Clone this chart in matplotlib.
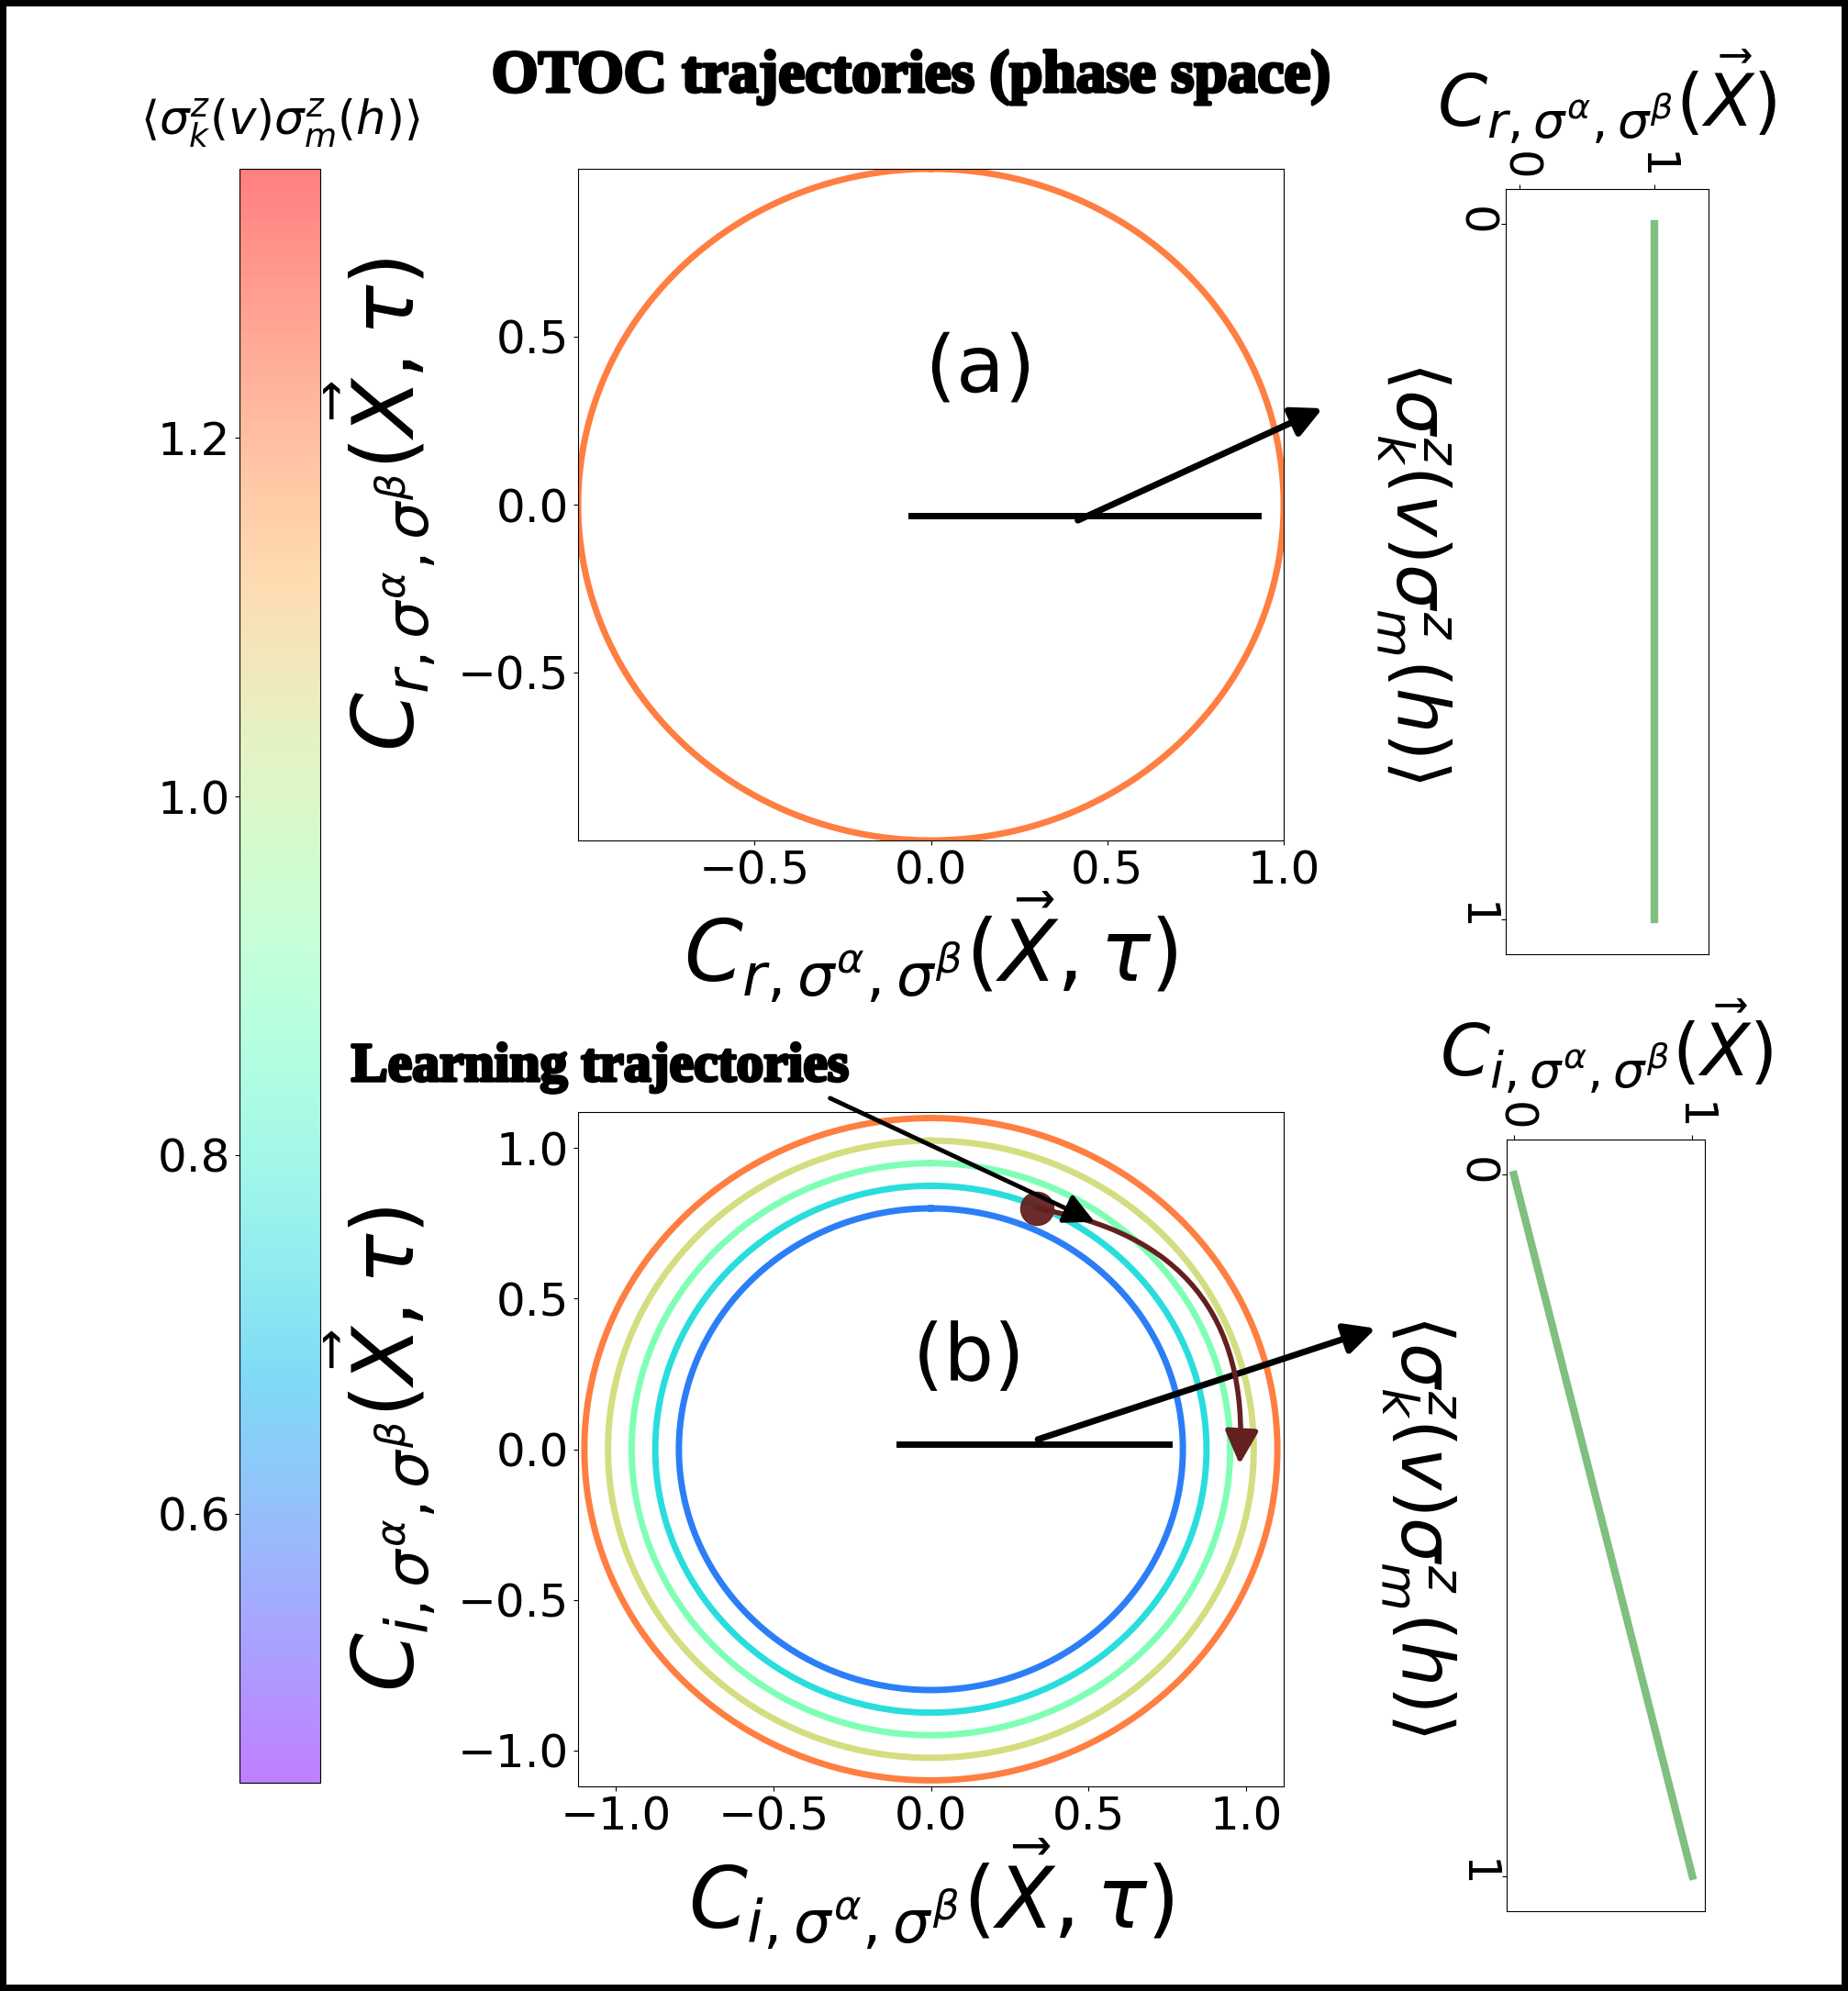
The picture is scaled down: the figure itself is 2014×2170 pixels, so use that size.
import matplotlib
matplotlib.use("Agg")
import matplotlib.pyplot as plt
import matplotlib.patheffects as pe
import numpy as np
from matplotlib.colors import ListedColormap, Normalize
from matplotlib.cm import ScalarMappable

# circle radii and their colour values (colorbar quantity)
radii_a = [1.0]
values_a = [1.2]
radii_b = [1.1, 1.025, 0.95, 0.875, 0.8]
values_b = [1.2, 1.05, 0.9, 0.75, 0.6]
cbar_range = (0.45, 1.35)
cbar_ticks = [0.6, 0.8, 1.0, 1.2]

# right-hand panels: amplitude vs index
right_a_x = [1, 1]
right_a_y = [0, 1]
right_b_x = [0, 1]
right_b_y = [0, 1]

# learning trajectory start / end on panel (b)
learn_start = (0.335, 0.80)
learn_end = (0.98, -0.05)

W, H = 2014, 2170
fig = plt.figure(figsize=(W / 100, H / 100), dpi=100, edgecolor="black", linewidth=10)


def frac(l, t, r, b):
    return [l / W, 1 - b / H, (r - l) / W, (b - t) / H]


ax_a = fig.add_axes(frac(630, 184, 1399, 916))
ax_b = fig.add_axes(frac(630, 1212, 1399, 1947))
cax = fig.add_axes(frac(261, 184, 349, 1943))
ax_ra = fig.add_axes(frac(1641, 206, 1862, 1040))
ax_rb = fig.add_axes(frac(1642, 1242, 1858, 2083))

cmap = plt.get_cmap("rainbow")
norm = Normalize(*cbar_range)
t = np.linspace(0, 2 * np.pi, 400)

for r, v in zip(radii_a, values_a):
    ax_a.plot(r * np.sin(t), r * np.cos(t), color=cmap(norm(v)), lw=5)
for r, v in zip(radii_b, values_b):
    ax_b.plot(r * np.sin(t), r * np.cos(t), color=cmap(norm(v)), lw=5)

TICK = 36
LAB = 66
for ax in (ax_a, ax_b):
    ax.tick_params(labelsize=TICK)

ax_a.set_xlim(-1, 1)
ax_a.set_ylim(-1, 1)
ax_a.set_xticks([-0.5, 0.0, 0.5, 1.0])
ax_a.set_yticks([-0.5, 0.0, 0.5])
ax_b.set_xlim(-1.12, 1.12)
ax_b.set_ylim(-1.12, 1.12)
ax_b.set_xticks([-1.0, -0.5, 0.0, 0.5, 1.0])
ax_b.set_yticks([-1.0, -0.5, 0.0, 0.5, 1.0])

lab_r = r"$C_{r,\sigma^{\alpha},\sigma^{\beta}}(\vec{X}, \tau)$"
lab_i = r"$C_{i,\sigma^{\alpha},\sigma^{\beta}}(\vec{X}, \tau)$"
ax_a.set_xlabel(lab_r, fontsize=LAB)
ax_a.set_ylabel(lab_r, fontsize=LAB)
ax_b.set_xlabel(lab_i, fontsize=LAB)
ax_b.set_ylabel(lab_i, fontsize=LAB)
for ax in (ax_a, ax_b):
    ax.xaxis.set_label_coords(0.5, -0.075)
    ax.yaxis.set_label_coords(-0.2, 0.5)

halo = [pe.withStroke(linewidth=10, foreground="white")]
ax_a.text(0.14, 0.40, "(a)", fontsize=62, ha="center", va="center", path_effects=halo)
ax_b.text(0.12, 0.30, "(b)", fontsize=62, ha="center", va="center", path_effects=halo)

# zoom-out markers with arrows to the right panels
ax_a.plot([-0.056, 0.927], [-0.033, -0.033], color="black", lw=5)
ax_a.annotate("", xy=(1.117, 0.29), xytext=(0.41, -0.05),
              arrowprops=dict(arrowstyle="-|>", color="black", lw=5, mutation_scale=50),
              annotation_clip=False)
ax_b.plot([-0.1, 0.755], [0.017, 0.017], color="black", lw=5)
ax_b.annotate("", xy=(1.42, 0.404), xytext=(0.332, 0.03),
              arrowprops=dict(arrowstyle="-|>", color="black", lw=5, mutation_scale=50),
              annotation_clip=False)

# learning trajectory
brown = "#64201f"
ax_b.plot(*learn_start, "o", ms=26, color=brown, alpha=0.95, zorder=5)
ax_b.annotate("", xy=learn_end, xytext=learn_start,
              arrowprops=dict(arrowstyle="-|>", color=brown, lw=4, mutation_scale=55,
                              connectionstyle="arc3,rad=-0.45", shrinkA=0, shrinkB=0),
              zorder=6)
ax_b.annotate("", xy=(0.52, 0.755), xytext=(-0.32, 1.166),
              arrowprops=dict(arrowstyle="-|>", color="black", lw=3.5, mutation_scale=50,
                              shrinkA=0, shrinkB=0),
              annotation_clip=False, zorder=7)

stroke = [pe.withStroke(linewidth=2.5, foreground="black")]
fig.text(993 / W, 1 - 100 / H, "OTOC trajectories (phase space)", fontsize=47,
         fontweight="bold", family="Liberation Serif", ha="center", va="baseline",
         path_effects=stroke)
fig.text(654 / W, 1 - 1178 / H, "Learning trajectories", fontsize=43,
         fontweight="bold", family="Liberation Serif", ha="center", va="baseline",
         path_effects=stroke)

# colorbar
base = cmap(np.linspace(0, 1, 256))
light = base.copy()
light[:, :3] = 0.5 * base[:, :3] + 0.5
sm = ScalarMappable(norm=norm, cmap=ListedColormap(light))
cb = fig.colorbar(sm, cax=cax)
cb.set_ticks(cbar_ticks)
cax.yaxis.set_ticks_position("left")
cax.tick_params(labelsize=TICK)
cax.set_title(r"$\langle\sigma_k^z(v)\sigma_m^z(h)\rangle$", fontsize=37, pad=26)

# right panels
ylab = r"$\langle\sigma_k^z(v)\sigma_m^z(h)\rangle$"
for ax, xs, ys, title, xlim in (
    (ax_ra, right_a_x, right_a_y, r"$C_{r,\sigma^{\alpha},\sigma^{\beta}}(\vec{X})$", (-0.1, 1.4)),
    (ax_rb, right_b_x, right_b_y, r"$C_{i,\sigma^{\alpha},\sigma^{\beta}}(\vec{X})$", (-0.04, 1.07)),
):
    ax.plot(xs, ys, color="green", alpha=0.5, lw=6)
    ax.set_xlim(*xlim)
    ax.set_ylim(1.05, -0.05)
    ax.set_xticks([0, 1])
    ax.set_yticks([0, 1])
    ax.xaxis.tick_top()
    ax.tick_params(labelsize=TICK, labelrotation=-90)
    ax.set_title(title, fontsize=56, y=1.083, pad=0)
    ax.set_ylabel(ylab, fontsize=56, rotation=270)
    ax.yaxis.set_label_coords(-0.65, 0.5)

fig.savefig("out.png", dpi=100)
